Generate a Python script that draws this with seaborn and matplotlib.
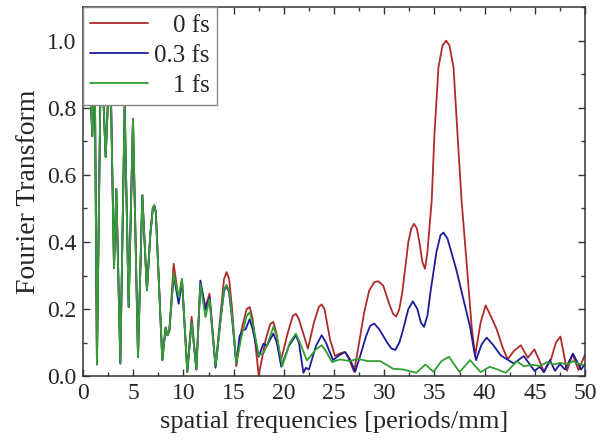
import numpy as np
import pandas as pd
import matplotlib
matplotlib.use("Agg")
import matplotlib.pyplot as plt
import seaborn as sns
from matplotlib.ticker import MultipleLocator

# --- data ---
# low-frequency part: the three curves coincide there
low_freq = [0.3, 0.6, 0.93, 1.15, 1.39, 1.8, 2.26, 2.7, 3.09, 3.32, 3.72, 4.15, 4.55,
            4.98, 5.48, 5.91, 6.37, 6.7, 6.95, 7.1, 7.25, 7.9, 8.23, 8.42, 8.6]
low_ft = [1.05, 0.95, 0.715, 1.02, 0.035, 1.0, 0.653, 0.98, 0.322, 0.558, 0.038, 0.81, 0.206,
          0.767, 0.057, 0.539, 0.256, 0.42, 0.5, 0.509, 0.49, 0.048, 0.145, 0.122, 0.135]

freq_0fs = [9.03, 9.53, 9.86, 10.39, 10.82, 11.29, 11.69, 12.2, 12.6, 13.2, 13.75, 14.05,
            14.3, 14.55, 14.85, 15.27, 15.8, 16.3, 16.6, 16.9, 17.5, 18.2, 18.65, 18.95,
            19.25, 19.7, 20.4, 20.9, 21.2, 21.5, 22.4, 23.0, 23.5, 23.77, 24.05, 24.6, 25.1,
            25.6, 26.1, 26.5, 27.0, 27.5, 28.0, 28.5, 29.0, 29.4, 29.9, 30.5, 30.9, 31.2, 31.5,
            31.8, 32.4, 32.7, 32.97, 33.25, 33.5, 33.8, 34.06, 34.3, 34.73, 35.0, 35.4, 35.8,
            36.16, 36.5, 36.9, 37.3, 37.7, 38.2, 38.7, 39.05, 39.6, 40.1, 40.6, 41.2, 41.8,
            42.3, 42.9, 43.6, 44.3, 44.95, 45.4, 45.9, 46.6, 47.1, 47.55, 48.2, 48.75, 49.35, 50.0]
ft_0fs = [0.335, 0.23, 0.29, 0.013, 0.177, 0.02, 0.275, 0.206, 0.246, 0.03, 0.2, 0.29,
          0.31, 0.29, 0.2, 0.03, 0.14, 0.2, 0.206, 0.17, 0.003, 0.11, 0.155, 0.162,
          0.13, 0.045, 0.13, 0.18, 0.186, 0.17, 0.082, 0.16, 0.207, 0.214, 0.2, 0.11, 0.06,
          0.068, 0.072, 0.05, 0.013, 0.1, 0.19, 0.255, 0.28, 0.283, 0.27, 0.215, 0.185, 0.178, 0.2,
          0.25, 0.4, 0.44, 0.454, 0.44, 0.4, 0.34, 0.32, 0.37, 0.524, 0.72, 0.92, 0.985,
          1.0, 0.985, 0.92, 0.72, 0.524, 0.34, 0.15, 0.06, 0.16, 0.211, 0.18, 0.14, 0.085,
          0.05, 0.075, 0.092, 0.055, 0.08, 0.05, 0.013, 0.05, 0.1, 0.118, 0.016, 0.066, 0.018, 0.065]

freq_03fs = [9.03, 9.53, 9.86, 10.39, 10.82, 11.29, 11.69, 12.2, 12.6, 13.2, 13.75, 14.05,
             14.3, 14.55, 14.85, 15.27, 15.6, 15.9, 16.2, 16.6, 16.9, 17.5, 17.96, 18.3,
             18.96, 19.3, 19.75, 20.5, 21.2, 21.5, 21.95, 22.2, 22.5, 23.2, 23.77, 24.2,
             24.9, 25.5, 26.1, 26.6, 27.1, 27.6, 28.2, 28.6, 29.0, 29.5, 30.3, 30.7, 31.1, 31.5,
             31.8, 32.4, 32.85, 33.3, 33.65, 33.96, 34.3, 34.6, 35.2, 35.6, 35.9, 36.3, 37.2,
             38.0, 38.55, 38.9, 39.14, 39.7, 40.2, 40.8, 41.6, 42.9, 43.9, 44.96, 45.5, 45.9,
             46.5, 47.0, 47.5, 48.0, 48.8, 49.6, 50.0]
ft_03fs = [0.30, 0.216, 0.285, 0.013, 0.162, 0.02, 0.285, 0.198, 0.235, 0.025, 0.18, 0.255,
           0.268, 0.25, 0.17, 0.04, 0.12, 0.137, 0.14, 0.17, 0.14, 0.058, 0.097, 0.09,
           0.127, 0.1, 0.028, 0.09, 0.122, 0.1, 0.01, 0.025, 0.02, 0.09, 0.122, 0.1,
           0.048, 0.062, 0.072, 0.05, 0.013, 0.06, 0.12, 0.15, 0.157, 0.14, 0.1, 0.083, 0.078, 0.1,
           0.13, 0.2, 0.223, 0.2, 0.16, 0.147, 0.18, 0.25, 0.37, 0.42, 0.428, 0.41, 0.315,
           0.215, 0.147, 0.085, 0.048, 0.095, 0.115, 0.095, 0.062, 0.038, 0.06, 0.016, 0.028, 0.012,
           0.048, 0.016, 0.036, 0.02, 0.067, 0.02, 0.036]

freq_1fs = [9.03, 9.53, 9.86, 10.39, 10.82, 11.29, 11.69, 12.2, 12.6, 13.2, 13.75, 14.05,
            14.3, 14.55, 14.85, 15.27, 15.8, 16.3, 16.6, 16.9, 17.5, 18.0, 18.3, 18.96, 19.3,
            19.85, 20.6, 21.2, 21.6, 22.3, 23.2, 23.77, 24.2, 24.8, 25.6, 26.6, 27.4, 28.3,
            29.6, 30.9, 31.9, 33.2, 34.1, 34.9, 35.7, 36.45, 37.5, 38.55, 39.6, 40.5, 41.3,
            42.1, 43.2, 43.9, 44.8, 45.5, 46.2, 46.9, 47.5, 48.2, 48.8, 49.3, 49.8, 50.0]
ft_1fs = [0.306, 0.235, 0.29, 0.013, 0.16, 0.02, 0.275, 0.176, 0.23, 0.03, 0.18, 0.26,
          0.272, 0.255, 0.18, 0.04, 0.12, 0.18, 0.19, 0.16, 0.062, 0.07, 0.09, 0.147, 0.12,
          0.03, 0.1, 0.127, 0.1, 0.047, 0.08, 0.092, 0.075, 0.042, 0.05, 0.045, 0.052, 0.045,
          0.045, 0.022, 0.02, 0.01, 0.035, 0.013, 0.045, 0.058, 0.012, 0.048, 0.012, 0.028, 0.02,
          0.01, 0.044, 0.03, 0.034, 0.03, 0.042, 0.035, 0.04, 0.035, 0.045, 0.038, 0.033, 0.035]

labels = ["0 fs", "0.3 fs", "1 fs"]
colors = ["#b02a2a", "#1c1c9a", "#33a033"]

# build one long table (low part shared by all three)
parts = []
for lab, fx, fy in zip(labels, [freq_0fs, freq_03fs, freq_1fs], [ft_0fs, ft_03fs, ft_1fs]):
    parts.append(pd.DataFrame({"freq": low_freq + fx, "ft": low_ft + fy, "delay": lab}))
df = pd.concat(parts, ignore_index=True)

sns.set_theme(style="ticks")
plt.rcParams["font.family"] = "serif"
plt.rcParams["font.serif"] = ["Liberation Serif", "Times New Roman", "Tinos", "STIXGeneral", "DejaVu Serif"]
plt.rcParams["mathtext.fontset"] = "stix"

fig = plt.figure(figsize=(5.97, 4.40), dpi=100)
ax = fig.add_axes([0.139, 0.145, 0.841, 0.839])

sns.lineplot(data=df, x="freq", y="ft", hue="delay", hue_order=labels,
             palette=dict(zip(labels, colors)), estimator=None, linewidth=1.3, ax=ax)

ax.set_xlim(0, 50)
ax.set_ylim(0, 1.1)
ax.xaxis.set_major_locator(MultipleLocator(5))
ax.xaxis.set_minor_locator(MultipleLocator(2.5))
ax.yaxis.set_major_locator(MultipleLocator(0.2))
ax.yaxis.set_minor_locator(MultipleLocator(0.1))
ax.yaxis.set_major_formatter(matplotlib.ticker.FormatStrFormatter("%.1f"))
ax.tick_params(which="both", direction="in", top=True, right=True, color="#333333")
ax.tick_params(which="major", length=5, width=1, labelsize=17, pad=5)
ax.tick_params(which="minor", length=3, width=1)
for s in ax.spines.values():
    s.set_color("#333333")
    s.set_linewidth(1.1)

ax.set_xlabel("spatial frequencies [periods/mm]", fontsize=19, labelpad=4)
ax.set_ylabel("Fourier Transform", fontsize=20, labelpad=4)

handles, labs = ax.get_legend_handles_labels()
leg = ax.legend(handles, labs, loc="upper left", borderaxespad=0, frameon=True,
                fancybox=False, framealpha=1, edgecolor="#888888", fontsize=18,
                handlelength=2.3, handletextpad=0.25, labelspacing=0.3, borderpad=0.3)
leg.get_frame().set_linewidth(1.0)
for h in leg.get_lines():
    h.set_linewidth(1.3)

# right-align the legend texts
fig.canvas.draw()
r = fig.canvas.get_renderer()
widths = [t.get_window_extent(r).width for t in leg.get_texts()]
wmax = max(widths)
for t, w in zip(leg.get_texts(), widths):
    t.set_position((wmax - w, 0))

fig.savefig("out.png", dpi=100)
